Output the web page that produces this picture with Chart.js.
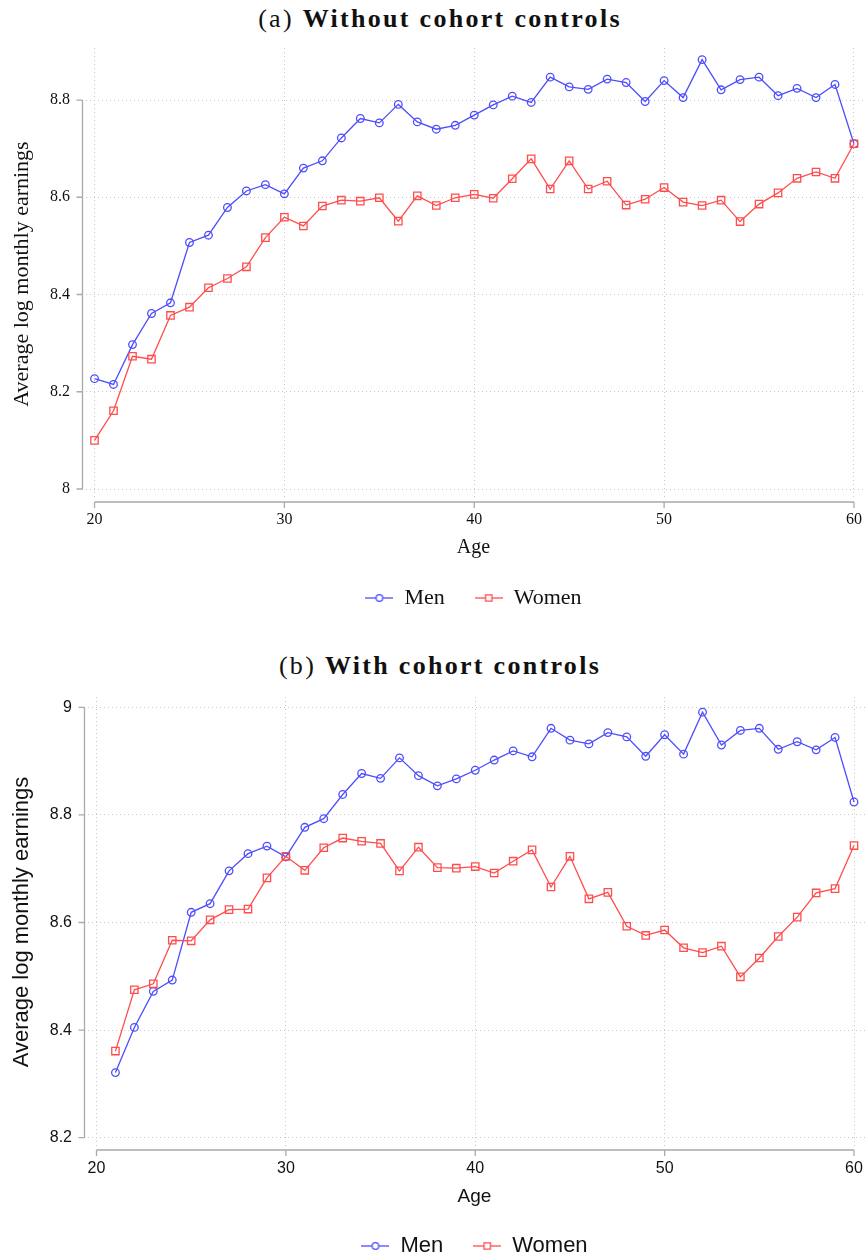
<!DOCTYPE html>
<html>
<head>
<meta charset="utf-8">
<script src="https://cdn.jsdelivr.net/npm/chart.js@4"></script>
<style>
  html, body { margin: 0; padding: 0; background: #fff; overflow: hidden; }
  .wrap { position: relative; width: 865px; height: 1258px; }
  .ttl {
    position: absolute; left: 0; width: 880px; text-align: center;
    font-family: "Liberation Serif", serif; font-size: 26px; line-height: 30px;
    letter-spacing: 2.3px; color: #111; white-space: nowrap;
  }
  canvas { position: absolute; left: 0; }
</style>
</head>
<body>
<div class="wrap">
  <div class="ttl" style="top:4px">(a) <b>Without cohort controls</b></div>
  <canvas id="chartA" width="865" height="590" style="top:40px"></canvas>
  <div class="ttl" style="top:651px">(b) <b>With cohort controls</b></div>
  <canvas id="chartB" width="865" height="590" style="top:690px"></canvas>
</div>
<script>
// ---- data ----
const agesA = [20, 21, 22, 23, 24, 25, 26, 27, 28, 29, 30, 31, 32, 33, 34, 35, 36, 37, 38, 39,
  40, 41, 42, 43, 44, 45, 46, 47, 48, 49, 50, 51, 52, 53, 54, 55, 56, 57, 58, 59, 60];
const menA = [8.227, 8.215, 8.297, 8.361, 8.383, 8.507, 8.522, 8.579, 8.613, 8.626,
  8.607, 8.660, 8.675, 8.722, 8.762, 8.753, 8.791, 8.755, 8.740, 8.748,
  8.769, 8.790, 8.808, 8.795, 8.847, 8.827, 8.822, 8.843, 8.836, 8.797,
  8.840, 8.805, 8.883, 8.821, 8.842, 8.847, 8.809, 8.824, 8.805, 8.832, 8.710];
const womenA = [8.100, 8.161, 8.273, 8.267, 8.357, 8.374, 8.414, 8.433, 8.457, 8.517,
  8.559, 8.541, 8.582, 8.594, 8.592, 8.599, 8.551, 8.603, 8.583, 8.599,
  8.606, 8.598, 8.638, 8.679, 8.617, 8.675, 8.617, 8.633, 8.584, 8.596,
  8.620, 8.590, 8.583, 8.594, 8.550, 8.586, 8.609, 8.639, 8.652, 8.639, 8.710];

const agesB = [21, 22, 23, 24, 25, 26, 27, 28, 29, 30, 31, 32, 33, 34, 35, 36, 37, 38, 39,
  40, 41, 42, 43, 44, 45, 46, 47, 48, 49, 50, 51, 52, 53, 54, 55, 56, 57, 58, 59, 60];
const menB = [8.321, 8.405, 8.472, 8.493, 8.619, 8.635, 8.696, 8.728, 8.742,
  8.722, 8.777, 8.793, 8.838, 8.877, 8.868, 8.906, 8.873, 8.854, 8.867,
  8.883, 8.902, 8.919, 8.908, 8.961, 8.939, 8.932, 8.953, 8.945, 8.909,
  8.949, 8.913, 8.991, 8.930, 8.957, 8.961, 8.922, 8.936, 8.921, 8.944, 8.824];
const womenB = [8.361, 8.475, 8.486, 8.567, 8.566, 8.605, 8.624, 8.625, 8.683,
  8.723, 8.697, 8.739, 8.757, 8.751, 8.747, 8.696, 8.740, 8.702, 8.701,
  8.704, 8.692, 8.714, 8.735, 8.666, 8.723, 8.644, 8.656, 8.593, 8.576,
  8.586, 8.553, 8.544, 8.556, 8.499, 8.534, 8.574, 8.610, 8.655, 8.663, 8.743];

const xTicks = [20, 30, 40, 50, 60];
const xTickLabels = ['20', '30', '40', '50', '60'];
const yTicksA = [8, 8.2, 8.4, 8.6, 8.8];
const yTickLabelsA = ['8', '8.2', '8.4', '8.6', '8.8'];
const yTicksB = [8.2, 8.4, 8.6, 8.8, 9];
const yTickLabelsB = ['8.2', '8.4', '8.6', '8.8', '9'];
const seriesNames = ['Men', 'Women'];

const BLUE = '#4d4dff';
const RED = '#ff4d4d';
const AXIS = '#a9a9a9';

// small line+marker picture for the legend
function legendMark(color, style) {
  const c = document.createElement('canvas');
  c.width = 28; c.height = 12;
  const g = c.getContext('2d');
  g.strokeStyle = color; g.lineWidth = 1.3;
  g.beginPath(); g.moveTo(0, 6); g.lineTo(28, 6); g.stroke();
  g.fillStyle = '#fff';
  g.beginPath();
  if (style === 'circle') g.arc(14, 6, 3.3, 0, Math.PI * 2);
  else g.rect(10.8, 2.8, 6.4, 6.4);
  g.fill(); g.stroke();
  return c;
}

// stata-like axis lines, only between first and last tick
const stataAxes = {
  id: 'stataAxes',
  beforeDatasetsDraw(chart, args, opts) {
    const { ctx, chartArea, scales: { x, y } } = chart;
    ctx.save();
    ctx.strokeStyle = AXIS;
    ctx.lineWidth = 1.3;
    ctx.beginPath();
    const left = chartArea.left + 0.5;
    ctx.moveTo(left, y.getPixelForValue(opts.yTicks[0]));
    ctx.lineTo(left, y.getPixelForValue(opts.yTicks[opts.yTicks.length - 1]));
    opts.yTicks.forEach(v => {
      const p = y.getPixelForValue(v);
      ctx.moveTo(left - 6, p); ctx.lineTo(left, p);
    });
    const ay = chartArea.bottom + opts.gap;
    ctx.moveTo(x.getPixelForValue(xTicks[0]), ay);
    ctx.lineTo(x.getPixelForValue(xTicks[xTicks.length - 1]), ay);
    xTicks.forEach(v => {
      const p = x.getPixelForValue(v);
      ctx.moveTo(p, ay); ctx.lineTo(p, ay + 6);
    });
    ctx.stroke();
    ctx.restore();
  }
};

function makeChart(id, cfg) {
  const ctx = document.getElementById(id).getContext('2d');
  const font = cfg.font;
  return new Chart(ctx, {
    type: 'line',
    data: {
      datasets: [
        {
          label: seriesNames[0],
          data: cfg.ages.map((a, i) => ({ x: a, y: cfg.men[i] })),
          borderColor: BLUE, borderWidth: 1.3,
          pointStyle: 'circle', pointRadius: 3.8, pointBorderWidth: 1.3,
          pointBorderColor: BLUE, pointBackgroundColor: 'rgba(0,0,0,0)',
          tension: 0, order: 1
        },
        {
          label: seriesNames[1],
          data: cfg.ages.map((a, i) => ({ x: a, y: cfg.women[i] })),
          borderColor: RED, borderWidth: 1.3,
          pointStyle: 'rect', pointRadius: 5.2, pointBorderWidth: 1.3,
          pointBorderColor: RED, pointBackgroundColor: 'rgba(0,0,0,0)',
          tension: 0, order: 0
        }
      ]
    },
    options: {
      responsive: false,
      animation: false,
      devicePixelRatio: 1,
      layout: { autoPadding: false, padding: { top: cfg.padTop, bottom: cfg.padBottom, left: 0, right: 0 } },
      scales: {
        x: {
          type: 'linear', min: 19.34, max: 60.58,
          afterBuildTicks: s => { s.ticks = xTicks.map(v => ({ value: v })); },
          afterFit: s => { s.height = cfg.xHeight; s.paddingLeft = 0; s.paddingRight = 0; },
          ticks: {
            autoSkip: false, maxRotation: 0, padding: cfg.xTickPad, color: '#111',
            font: { family: font, size: 16 },
            callback: (v, i) => xTickLabels[i]
          },
          grid: { color: '#c8c8c8', lineWidth: 1, drawTicks: false },
          border: { display: false, dash: [1, 3] },
          title: {
            display: true, text: 'Age', color: '#111',
            font: { family: font, size: cfg.ageSize, lineHeight: 1 },
            padding: { top: 0, bottom: -1 }
          }
        },
        y: {
          min: cfg.yMin, max: cfg.yMax,
          afterBuildTicks: s => { s.ticks = cfg.yTicks.map(v => ({ value: v })); },
          afterFit: s => { s.width = cfg.yWidth; s.paddingTop = 0; s.paddingBottom = 0; },
          ticks: {
            autoSkip: false, padding: 12, color: '#111',
            font: { family: font, size: 16 },
            callback: (v, i) => cfg.yLabels[i]
          },
          grid: { color: '#c8c8c8', lineWidth: 1, drawTicks: false },
          border: { display: false, dash: [1, 3] },
          title: {
            display: true, text: 'Average log monthly earnings', color: '#111',
            font: { family: font, size: 22, lineHeight: 1.2 },
            padding: { top: 9, bottom: 0 }
          }
        }
      },
      plugins: {
        tooltip: { enabled: false },
        stataAxes: { gap: cfg.gap, yTicks: cfg.yTicks },
        legend: {
          position: 'bottom',
          fullSize: false,
          labels: {
            usePointStyle: true,
            pointStyleWidth: 28,
            padding: 30,
            color: '#111',
            font: { family: font, size: 22 },
            generateLabels: chart => {
              const marks = [legendMark(BLUE, 'circle'), legendMark(RED, 'rect')];
              return chart.data.datasets.map((ds, i) => ({
                text: ds.label,
                datasetIndex: i,
                pointStyle: marks[i],
                fillStyle: 'rgba(0,0,0,0)',
                strokeStyle: 'rgba(0,0,0,0)',
                lineWidth: 0,
                fontColor: '#111',
                hidden: false
              }));
            }
          }
        }
      }
    },
    plugins: [stataAxes]
  });
}

makeChart('chartA', {
  ages: agesA, men: menA, women: womenA,
  yTicks: yTicksA, yLabels: yTickLabelsA,
  yMin: 7.9774, yMax: 8.907,
  font: '"Liberation Serif", "Times New Roman", serif',
  padTop: 8, padBottom: 11, xHeight: 57, xTickPad: 10, ageSize: 20,
  yWidth: 82, gap: 2
});

makeChart('chartB', {
  ages: agesB, men: menB, women: womenB,
  yTicks: yTicksB, yLabels: yTickLabelsB,
  yMin: 8.1827, yMax: 9.0192,
  font: '"Liberation Sans", Arial, sans-serif',
  padTop: 7, padBottom: 13, xHeight: 58, xTickPad: 12, ageSize: 19,
  yWidth: 84, gap: 3
});
</script>
</body>
</html>
